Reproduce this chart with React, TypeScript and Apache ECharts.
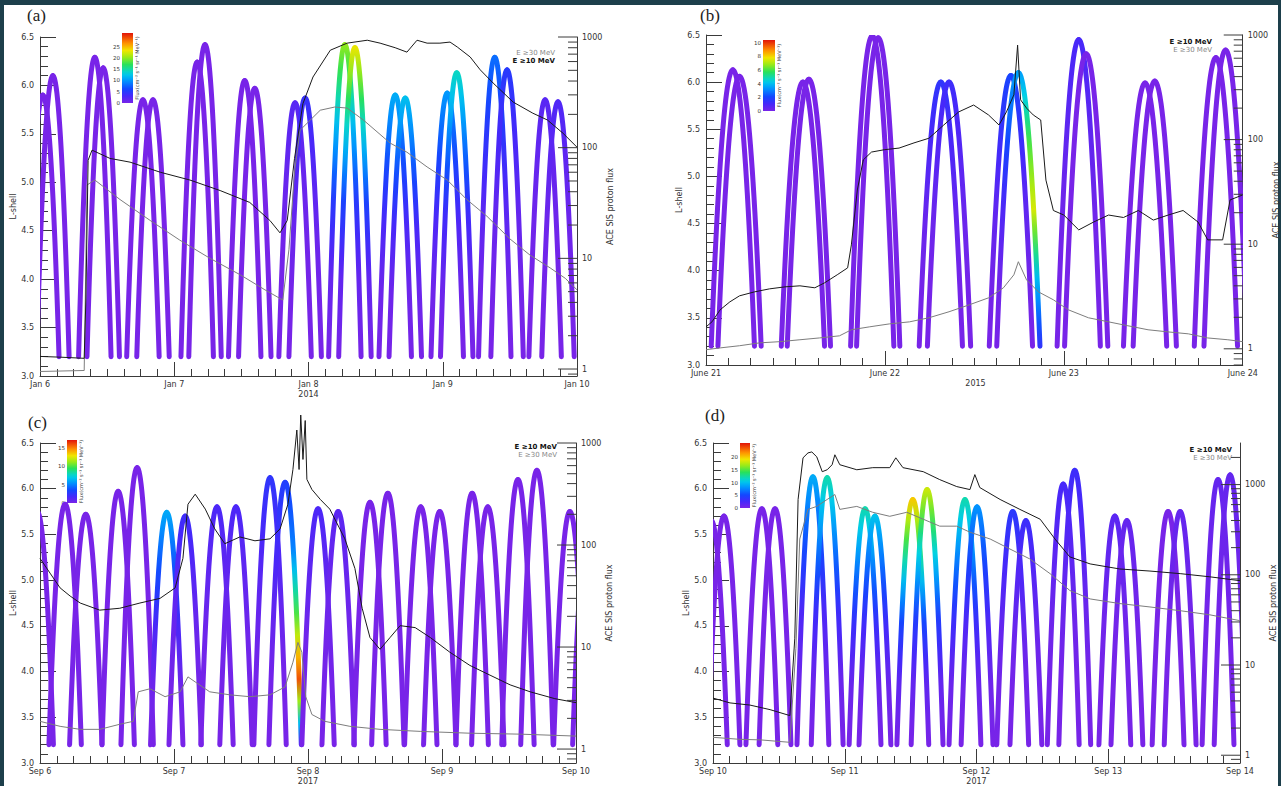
import React, { useEffect, useRef } from "react";
import * as echarts from "echarts";

/* ============ DATA (time = hours since the first day 00 UT) ============ */
// ---- panel (a) Jan 6-10 2014
const A_DAYS = ["Jan 6", "Jan 7", "Jan 8\n2014", "Jan 9", "Jan 10"];
const A_ARC_T = [0.5, 2.3, 9.8, 11.3, 18.4, 20.2, 28.1, 29.5, 36.6, 38.4, 45.6, 47.4, 54.5, 56.3, 63.5, 65.3, 72.8, 74.5, 81.3, 83.5, 90.3, 92.6];
const A_ARC_L = [5.9, 6.1, 6.29, 6.18, 5.85, 5.85, 6.24, 6.42, 6.05, 5.97, 5.82, 5.87, 6.42, 6.39, 5.9, 5.87, 5.92, 6.13, 6.29, 6.16, 5.85, 5.83];
const A_ARC_F = [0, 0, 0, 0, 0, 0, 0, 0, 0, 0, 2, 4, 20, 23, 11, 12, 10, 14, 8, 5, 2, 2.5];
const A_SPECIAL: number[][] = [];
const A_E10_T = [0, 3.6, 7.9, 8.2, 8.6, 9.3, 12.5, 16.1, 21.5, 26.8, 32.2, 37.5, 41.1, 42.9, 44.2, 45.5, 47.0, 48.8, 51.9, 54.9, 58.5, 60.8, 63.5, 65.6, 67.4, 69.2, 71.5, 73.3, 74.6, 76.9, 78.7, 81.0, 84.6, 88.1, 90.7, 93.5, 96];
const A_E10_F = [1.3, 1.28, 1.25, 4.2, 77, 95, 80, 74, 60, 51, 41, 32, 22, 17, 22, 80, 250, 435, 760, 880, 935, 880, 800, 730, 935, 880, 880, 900, 812, 660, 505, 384, 258, 205, 178, 135, 101];
const A_E30_T = [0, 7.9, 8.4, 9.8, 14.3, 19.7, 25.0, 30.4, 35.8, 40.2, 43.4, 44.5, 45.5, 46.5, 50.1, 52.7, 54.9, 57.8, 62.6, 65.6, 69.2, 72.8, 76.3, 79.9, 84.0, 87.6, 91.2, 93.9, 96];
const A_E30_F = [0.95, 0.97, 46, 51, 34, 22, 14.6, 10, 7.1, 5.2, 4.2, 12, 60, 144, 218, 233, 228, 178, 110, 91, 67, 51, 34, 24, 15, 10.7, 8.2, 6.6, 5.2];
const A_CB_TICKS = [0, 5, 10, 15, 20, 25];

// ---- panel (b) June 21-24 2015
const B_DAYS = ["June 21", "June 22", "June 23", "June 24"];
const B_YEAR = "2015";
const B_ARC_T = [3.6, 4.5, 13.0, 13.8, 22.3, 23.1, 31.5, 32.6, 40.9, 41.9, 50.0, 51.0, 58.9, 60.2, 68.4, 69.7];
const B_ARC_L = [6.13, 6.06, 6.0, 6.03, 6.49, 6.47, 6.0, 6.0, 6.07, 6.1, 6.45, 6.3, 5.99, 6.01, 6.26, 6.34];
const B_ARC_F = [0, 0, 0, 0, 0, 0, 1.5, 1.2, 2, 3.5, 1, 0, 0, 0, 0, 0];
const B_SPECIAL = [[9, 1, 3.5, 6, 7.5, 4, 1.5]];
const B_E10_T = [0, 0.8, 1.9, 3.2, 4.5, 6.5, 8.5, 10.6, 12.6, 14.6, 15.9, 17.6, 19.0, 19.5, 20.3, 21.1, 22.2, 23.9, 25.9, 27.9, 29.9, 31.9, 33.9, 35.9, 37.9, 39.3, 40.3, 41.3, 41.8, 42.2, 43.0, 43.9, 44.9, 45.6, 46.6, 48.0, 50.0, 52.0, 54.0, 56.0, 58.0, 60.0, 62.0, 64.0, 66.0, 67.3, 69.3, 70.3, 72];
const B_E10_F = [1.62, 1.81, 2.36, 2.81, 3.21, 3.5, 3.74, 3.91, 4.0, 3.83, 4.27, 5.1, 5.94, 9.85, 33, 64, 76, 80, 83, 93, 103, 138, 184, 214, 172, 138, 184, 268, 800, 240, 200, 172, 154, 41, 21, 19, 13.7, 16.3, 19, 18, 21, 17, 19, 21, 16.3, 11, 11, 26.5, 29.6];
const B_E30_T = [0, 1.9, 4.5, 7.2, 9.9, 12.6, 15.2, 17.9, 19.5, 21.9, 24.6, 27.3, 29.9, 32.6, 35.3, 37.9, 39.9, 41.3, 41.9, 43.0, 44.6, 46.6, 48.6, 51.3, 54.0, 56.6, 59.3, 62.0, 64.7, 67.3, 70.0, 72];
const B_E30_F = [0.98, 1.02, 1.07, 1.14, 1.17, 1.22, 1.27, 1.33, 1.52, 1.62, 1.73, 1.81, 1.98, 2.26, 2.63, 3.07, 3.83, 5.1, 6.8, 4.56, 3.5, 2.94, 2.36, 1.98, 1.81, 1.66, 1.52, 1.45, 1.39, 1.27, 1.22, 1.17];
const B_CB_TICKS = [0, 2, 4, 6, 8, 10];

// ---- panel (c) Sep 6-10 2017
const C_DAYS = ["Sep 6", "Sep 7", "Sep 8\n2017", "Sep 9", "Sep 10"];
const C_ARC_T = [-0.5, 4.5, 8.2, 14.0, 17.4, 22.7, 26.0, 31.7, 35.1, 41.2, 43.9, 49.8, 53.4, 59.1, 62.3, 68.2, 71.6, 77.4, 80.2, 85.6, 89.0, 94.9, 98.3];
const C_ARC_L = [5.75, 5.83, 5.72, 5.97, 6.23, 5.74, 5.7, 5.8, 5.8, 6.12, 6.07, 5.78, 5.75, 5.85, 5.95, 5.8, 5.75, 5.95, 5.8, 6.1, 6.2, 5.75, 5.7];
const C_ARC_F = [0, 0, 0, 0, 0, 6, 2, 1.5, 1.5, 2.5, 3, 1.5, 1, 0, 0, 0, 0, 0, 0, 0, 0, 0, 0];
const C_SPECIAL = [[10, 1, 3, 5, 10, 16, 2]];
const C_E10_T = [0, 1.8, 3.6, 5.4, 7.2, 10.7, 14.3, 17.9, 21.5, 24.2, 25.6, 26.5, 27.8, 29.6, 31.3, 33.1, 35.8, 38.5, 41.2, 43.0, 44.4, 45.3, 46.0, 46.4, 46.7, 47.1, 47.5, 47.8, 48.7, 50.2, 51.9, 54.6, 56.4, 57.7, 59.1, 60.9, 62.7, 64.5, 67.2, 69.9, 73.4, 77.0, 80.6, 84.2, 87.8, 92.2, 96];
const C_E10_F = [74, 53, 38, 31.6, 27, 23, 24, 27, 30, 38, 74, 251, 315, 225, 144, 103, 120, 110, 115, 144, 251, 550, 1340, 550, 1880, 690, 1660, 440, 350, 280, 225, 115, 59, 24, 12.4, 9.5, 12.4, 16.2, 15.5, 12.4, 8.9, 6.6, 5.3, 4.26, 3.64, 3.12, 2.85];
const C_E30_T = [0, 3.6, 7.2, 10.7, 14.3, 16.7, 17.6, 19.7, 22.4, 25.1, 26.5, 27.8, 30.4, 34.0, 37.6, 41.2, 43.9, 45.3, 46.2, 46.9, 47.6, 48.7, 51.0, 55.5, 60.9, 68.1, 77.0, 86.0, 96];
const C_E30_F = [1.87, 1.67, 1.56, 1.56, 1.75, 1.87, 3.64, 3.9, 3.26, 3.64, 5.1, 4.55, 3.64, 3.4, 3.26, 3.4, 4.07, 7.1, 11.1, 8.9, 3.26, 2.18, 1.87, 1.67, 1.56, 1.49, 1.43, 1.4, 1.34];
const C_CB_TICKS = [0, 5, 10, 15];

// ---- panel (d) Sep 10-14 2017
const D_DAYS = ["Sep 10", "Sep 11", "Sep 12\n2017", "Sep 13", "Sep 14"];
const D_ARC_T = [-0.3, 2.0, 8.9, 11.3, 18.2, 20.8, 27.7, 29.5, 36.4, 39.0, 45.9, 48.1, 54.6, 57.0, 63.8, 65.9, 73.2, 75.4, 82.9, 85.1, 92.0, 94.2];
const D_ARC_L = [5.65, 5.7, 5.78, 5.78, 6.13, 6.12, 5.78, 5.7, 5.88, 5.99, 5.88, 5.8, 5.75, 5.65, 6.05, 6.2, 5.7, 5.65, 5.75, 5.75, 6.1, 6.15];
const D_ARC_F = [0, 0, 0, 0, 9, 12, 12, 10, 20, 18, 12, 8, 4, 3, 2.5, 3, 1.5, 1, 0, 1, 1, 1];
const D_SPECIAL: number[][] = [];
const D_E10_T = [0, 3.1, 6.7, 10.4, 14.0, 14.9, 15.5, 16.4, 17.3, 18.0, 18.9, 19.9, 20.8, 21.7, 22.2, 23.1, 26.2, 29.1, 32.2, 33.3, 34.6, 38.3, 41.3, 44.4, 46.8, 47.7, 48.6, 52.3, 55.9, 59.6, 62.3, 65.0, 68.7, 74.1, 79.6, 85.1, 90.5, 96];
const D_E10_F = [4.3, 3.8, 3.6, 3.2, 2.75, 19.8, 684, 1980, 2245, 2300, 2030, 1390, 1460, 1660, 2140, 1660, 1460, 1540, 1540, 1980, 1540, 1390, 1135, 950, 880, 1290, 927, 684, 531, 413, 249, 158, 132, 116, 110, 103, 95, 86];
const D_E30_T = [0, 4.9, 8.6, 14.0, 15.1, 15.8, 17.3, 18.9, 20.8, 22.2, 23.1, 26.2, 29.1, 32.2, 35.3, 38.3, 41.3, 44.4, 46.8, 50.5, 54.1, 57.7, 61.4, 65.0, 68.7, 74.1, 79.6, 85.1, 90.5, 96];
const D_E30_F = [1.58, 1.5, 1.48, 1.39, 15.3, 249, 531, 573, 684, 776, 531, 573, 493, 445, 493, 413, 346, 346, 297, 249, 193, 150, 103, 67, 54, 48, 44, 40, 36, 31];
const D_CB_TICKS = [0, 5, 10, 15, 20];

const RIGHT_TICKS = [0.7, 0.8, 0.9, 1, 2, 3, 4, 5, 6, 7, 8, 9, 10, 20, 30, 40, 50, 60, 70, 80, 90, 100, 200, 300, 400, 500, 600, 700, 800, 900, 1000, 2000, 3000];

/* ============ STYLE / LAYOUT ============ */
const FONT = "DejaVu Sans";
const AX = "#3a3a3a";
const TXT = "#333";
const PURPLE = "rgb(120,36,232)";
const LB = 3.2; // lowest L drawn for each pass
const LEG_SHAPE = [1, 0.6, 0.25, 0.06, 0];
const CMAP: [number, number[]][] = [
  [0.0, [120, 36, 232]],
  [0.1, [70, 40, 250]],
  [0.2, [20, 70, 255]],
  [0.32, [0, 150, 255]],
  [0.42, [0, 210, 230]],
  [0.55, [40, 225, 90]],
  [0.66, [160, 235, 20]],
  [0.75, [240, 230, 0]],
  [0.86, [255, 140, 0]],
  [1.0, [225, 20, 10]],
];
function cmap(x: number): string {
  const v = Math.max(0, Math.min(1, x));
  for (let i = 1; i < CMAP.length; i++) {
    if (v <= CMAP[i][0]) {
      const [o0, c0] = CMAP[i - 1];
      const [o1, c1] = CMAP[i];
      const k = (v - o0) / (o1 - o0);
      return `rgb(${c0.map((c, j) => Math.round(c + (c1[j] - c) * k)).join(",")})`;
    }
  }
  const c = CMAP[CMAP.length - 1][1];
  return `rgb(${c.join(",")})`;
}

type Panel = any;
const PANELS: Panel[] = [
  {
    label: "(a)", labelPos: [27, 7],
    grid: { left: 40, top: 37, width: 537, height: 339 },
    xMax: 96, days: A_DAYS, fMin: 0.865, fMax: 1000, half: 2.9,
    vmax: 31, cb: { x: 122, y: 33, w: 11, h: 70 }, cbTicks: A_CB_TICKS,
    arcT: A_ARC_T, arcL: A_ARC_L, arcF: A_ARC_F, special: A_SPECIAL,
    e10: [A_E10_T, A_E10_F], e30: [A_E30_T, A_E30_F],
    legend: { x: 555, y: 53, first: "30" }, rGap: 20,
  },
  {
    label: "(b)", labelPos: [700, 7],
    grid: { left: 706, top: 35, width: 539, height: 330 },
    xMax: 72, days: B_DAYS, year: B_YEAR, fMin: 0.7, fMax: 1000, half: 2.9,
    vmax: 10.4, cb: { x: 763, y: 40, w: 12, h: 71 }, cbTicks: B_CB_TICKS,
    arcT: B_ARC_T, arcL: B_ARC_L, arcF: B_ARC_F, special: B_SPECIAL,
    e10: [B_E10_T, B_E10_F], e30: [B_E30_T, B_E30_F],
    legend: { x: 1212, y: 42, first: "10" }, rGap: 20,
  },
  {
    label: "(c)", labelPos: [28, 414],
    grid: { left: 40, top: 443, width: 536, height: 324 },
    xMax: 96, days: C_DAYS, fMin: 0.73, fMax: 1000, half: 2.9,
    vmax: 17.2, cb: { x: 67, y: 440, w: 10, h: 63 }, cbTicks: C_CB_TICKS,
    arcT: C_ARC_T, arcL: C_ARC_L, arcF: C_ARC_F, special: C_SPECIAL,
    e10: [C_E10_T, C_E10_F], e30: [C_E30_T, C_E30_F],
    legend: { x: 557, y: 447, first: "10" }, rGap: 20,
  },
  {
    label: "(d)", labelPos: [705, 407],
    grid: { left: 713, top: 443, width: 527, height: 324 },
    xMax: 96, days: D_DAYS, fMin: 0.82, fMax: 2890, half: 2.9,
    vmax: 25.5, cb: { x: 740, y: 443, w: 10, h: 65 }, cbTicks: D_CB_TICKS,
    arcT: D_ARC_T, arcL: D_ARC_L, arcF: D_ARC_F, special: D_SPECIAL,
    e10: [D_E10_T, D_E10_F], e30: [D_E30_T, D_E30_F],
    legend: { x: 1232, y: 450, first: "10" }, rGap: 20,
  },
];

function legProfile(p: Panel, i: number, side: number): number[] | null {
  const sp = p.special.find((s: number[]) => s[0] === i && (s[1] === side || s[1] === 0));
  if (sp) return sp.slice(2);
  const f = p.arcF[i];
  if (!f) return null;
  return LEG_SHAPE.map((m) => m * f);
}
function interp(prof: number[], g: number): number {
  const pos = g * (prof.length - 1);
  const i = Math.min(prof.length - 2, Math.floor(pos));
  const k = pos - i;
  return prof[i] + (prof[i + 1] - prof[i]) * k;
}
const isPow10 = (v: number) => v >= 1 && Math.abs(Math.log10(v) - Math.round(Math.log10(v))) < 1e-6;

function buildOption() {
  const grid: any[] = [], xAxis: any[] = [], yAxis: any[] = [], series: any[] = [], graphic: any[] = [];
  const lab = { fontSize: 8, color: TXT, fontFamily: FONT };

  // dark frame around the figure
  graphic.push({ type: "rect", shape: { x: 0, y: 0, width: 1281, height: 5 }, style: { fill: "#1d3f4b" }, silent: true });
  graphic.push({ type: "rect", shape: { x: 0, y: 0, width: 4, height: 786 }, style: { fill: "#1d3f4b" }, silent: true });
  graphic.push({ type: "rect", shape: { x: 1278, y: 0, width: 3, height: 786 }, style: { fill: "#1d3f4b" }, silent: true });

  PANELS.forEach((p, i) => {
    const g = p.grid;
    grid.push({ left: g.left, top: g.top, width: g.width, height: g.height });
    xAxis.push({
      type: "value", gridIndex: i, min: 0, max: p.xMax, interval: 24,
      axisLine: { lineStyle: { color: AX, width: 1 } },
      axisTick: { inside: true, length: 14, lineStyle: { color: AX } },
      minorTick: { show: true, splitNumber: 8, length: 7, lineStyle: { color: AX } },
      splitLine: { show: false },
      axisLabel: { ...lab, margin: 3, lineHeight: 10, formatter: (v: number) => p.days[Math.round(v / 24)] ?? "" },
    });
    yAxis.push({
      type: "value", gridIndex: i, position: "left", min: 3, max: 6.5, interval: 0.5,
      name: "L-shell", nameLocation: "middle", nameGap: 22, nameRotate: 90,
      nameTextStyle: { ...lab },
      axisLine: { show: true, lineStyle: { color: AX, width: 1 } },
      axisTick: { inside: true, length: 16, lineStyle: { color: AX } },
      minorTick: { show: true, splitNumber: 5, length: 8, lineStyle: { color: AX } },
      splitLine: { show: false },
      axisLabel: { ...lab, margin: 6, formatter: (v: number) => v.toFixed(1) },
    });
    yAxis.push({
      type: "log", logBase: 10, gridIndex: i, position: "right", min: p.fMin, max: p.fMax,
      name: "ACE SIS proton flux", nameLocation: "middle", nameGap: p.rGap, nameRotate: 90,
      nameTextStyle: { ...lab },
      axisLine: { show: true, lineStyle: { color: AX, width: 1 } },
      axisTick: { show: false }, minorTick: { show: false },
      splitLine: { show: false },
      axisLabel: { ...lab, margin: 5, formatter: (v: number) => (isPow10(v) ? String(Math.round(v)) : "") },
    });

    // L-shell passes
    series.push({
      type: "custom", xAxisIndex: i, yAxisIndex: 2 * i, clip: true, silent: true, z: 2,
      data: p.arcT.map((t: number, k: number) => [t, p.arcL[k], k]),
      renderItem: (params: any, api: any) => {
        const tp = api.value(0), lp = api.value(1), idx = api.value(2);
        const children: any[] = [];
        for (const side of [-1, 1]) {
          const pts: number[][] = [];
          const N = 24;
          for (let n = 0; n <= N; n++) {
            const u = n / N;
            pts.push(api.coord([tp + side * u * p.half, LB + (lp - LB) * (1 - u * u)]));
          }
          const prof = legProfile(p, idx, side);
          let stroke: any = PURPLE;
          if (prof) {
            const y0 = api.coord([tp, lp])[1];
            const y1 = api.coord([tp, LB])[1];
            const stops: any[] = [];
            for (let s = 0; s <= 12; s++) {
              const gg = s / 12;
              stops.push({ offset: gg, color: cmap(interp(prof, gg) / p.vmax) });
            }
            stroke = new echarts.graphic.LinearGradient(0, y0, 0, y1, stops, true);
          }
          children.push({
            type: "polyline", shape: { points: pts },
            style: { stroke, fill: "none", lineWidth: 5, lineCap: "round", lineJoin: "round" },
          });
        }
        return { type: "group", children };
      },
    });
    // proton flux lines
    series.push({
      type: "line", xAxisIndex: i, yAxisIndex: 2 * i + 1, showSymbol: false, symbol: "none", clip: false, z: 4,
      data: p.e30[0].map((t: number, k: number) => [t, p.e30[1][k]]),
      lineStyle: { color: "#7d7d7d", width: 1 }, silent: true,
    });
    series.push({
      type: "line", xAxisIndex: i, yAxisIndex: 2 * i + 1, showSymbol: false, symbol: "none", clip: false, z: 5,
      data: p.e10[0].map((t: number, k: number) => [t, p.e10[1][k]]),
      lineStyle: { color: "#1a1a1a", width: 1 }, silent: true,
    });
    // log ticks of right axis
    series.push({
      type: "custom", xAxisIndex: i, yAxisIndex: 2 * i + 1, clip: false, silent: true, z: 6,
      data: RIGHT_TICKS.filter((v) => v >= p.fMin && v <= p.fMax).map((v) => [p.xMax, v]),
      renderItem: (params: any, api: any) => {
        const v = api.value(1);
        const pt = api.coord([api.value(0), v]);
        const len = isPow10(v) ? 19 : 9;
        return { type: "line", shape: { x1: pt[0] - len, y1: pt[1], x2: pt[0], y2: pt[1] }, style: { stroke: AX, lineWidth: 1 } };
      },
    });

    // panel label
    graphic.push({ type: "text", x: p.labelPos[0], y: p.labelPos[1], style: { text: p.label, fontSize: 17, fontFamily: "Liberation Serif", fill: "#222" } });
    if (p.year) {
      graphic.push({ type: "text", x: g.left + g.width / 2, y: g.top + g.height + 14, style: { text: p.year, fontSize: 8, fontFamily: FONT, fill: TXT, align: "center" } });
    }
    // colour bar
    const cb = p.cb;
    const cbStops: any[] = [];
    for (let s = 0; s <= 20; s++) cbStops.push({ offset: s / 20, color: cmap(1 - s / 20) });
    graphic.push({ type: "rect", shape: { x: cb.x, y: cb.y, width: cb.w, height: cb.h }, style: { fill: new echarts.graphic.LinearGradient(0, 0, 0, 1, cbStops) } });
    p.cbTicks.forEach((v: number) => {
      const yy = cb.y + cb.h - (v / p.vmax) * cb.h;
      graphic.push({ type: "text", x: cb.x - 2, y: yy, style: { text: String(v), fontSize: 5.5, fontFamily: FONT, fill: TXT, align: "right", verticalAlign: "middle" } });
    });
    graphic.push({
      type: "text", x: cb.x + cb.w + 4, y: cb.y + cb.h / 2, rotation: Math.PI / 2,
      style: { text: "Flux(cm⁻² s⁻¹ sr⁻¹ MeV⁻¹)", fontSize: 5, fontFamily: FONT, fill: TXT, align: "center", verticalAlign: "middle" },
    });
    // legend texts
    const l10 = { text: "E ≥10 MeV", fill: "#111", fontWeight: "bold" };
    const l30 = { text: "E ≥30 MeV", fill: "#888", fontWeight: "normal" };
    const order = p.legend.first === "30" ? [l30, l10] : [l10, l30];
    order.forEach((o, k) => {
      graphic.push({
        type: "text", x: p.legend.x, y: p.legend.y + k * 7.5,
        style: { text: o.text, fill: o.fill, fontWeight: o.fontWeight, fontSize: 7, fontFamily: FONT, align: "right", verticalAlign: "middle" },
      });
    });
  });

  return { animation: false, backgroundColor: "#ffffff", grid, xAxis, yAxis, series, graphic };
}

export default function App() {
  const ref = useRef<HTMLDivElement>(null);
  useEffect(() => {
    const chart = echarts.init(ref.current!, null, { renderer: "svg" });
    chart.setOption(buildOption() as any);
    return () => chart.dispose();
  }, []);
  return (
    <div
      ref={ref}
      style={{ position: "fixed", left: 0, top: 0, width: 1281, height: 786, background: "#fff" }}
    />
  );
}
